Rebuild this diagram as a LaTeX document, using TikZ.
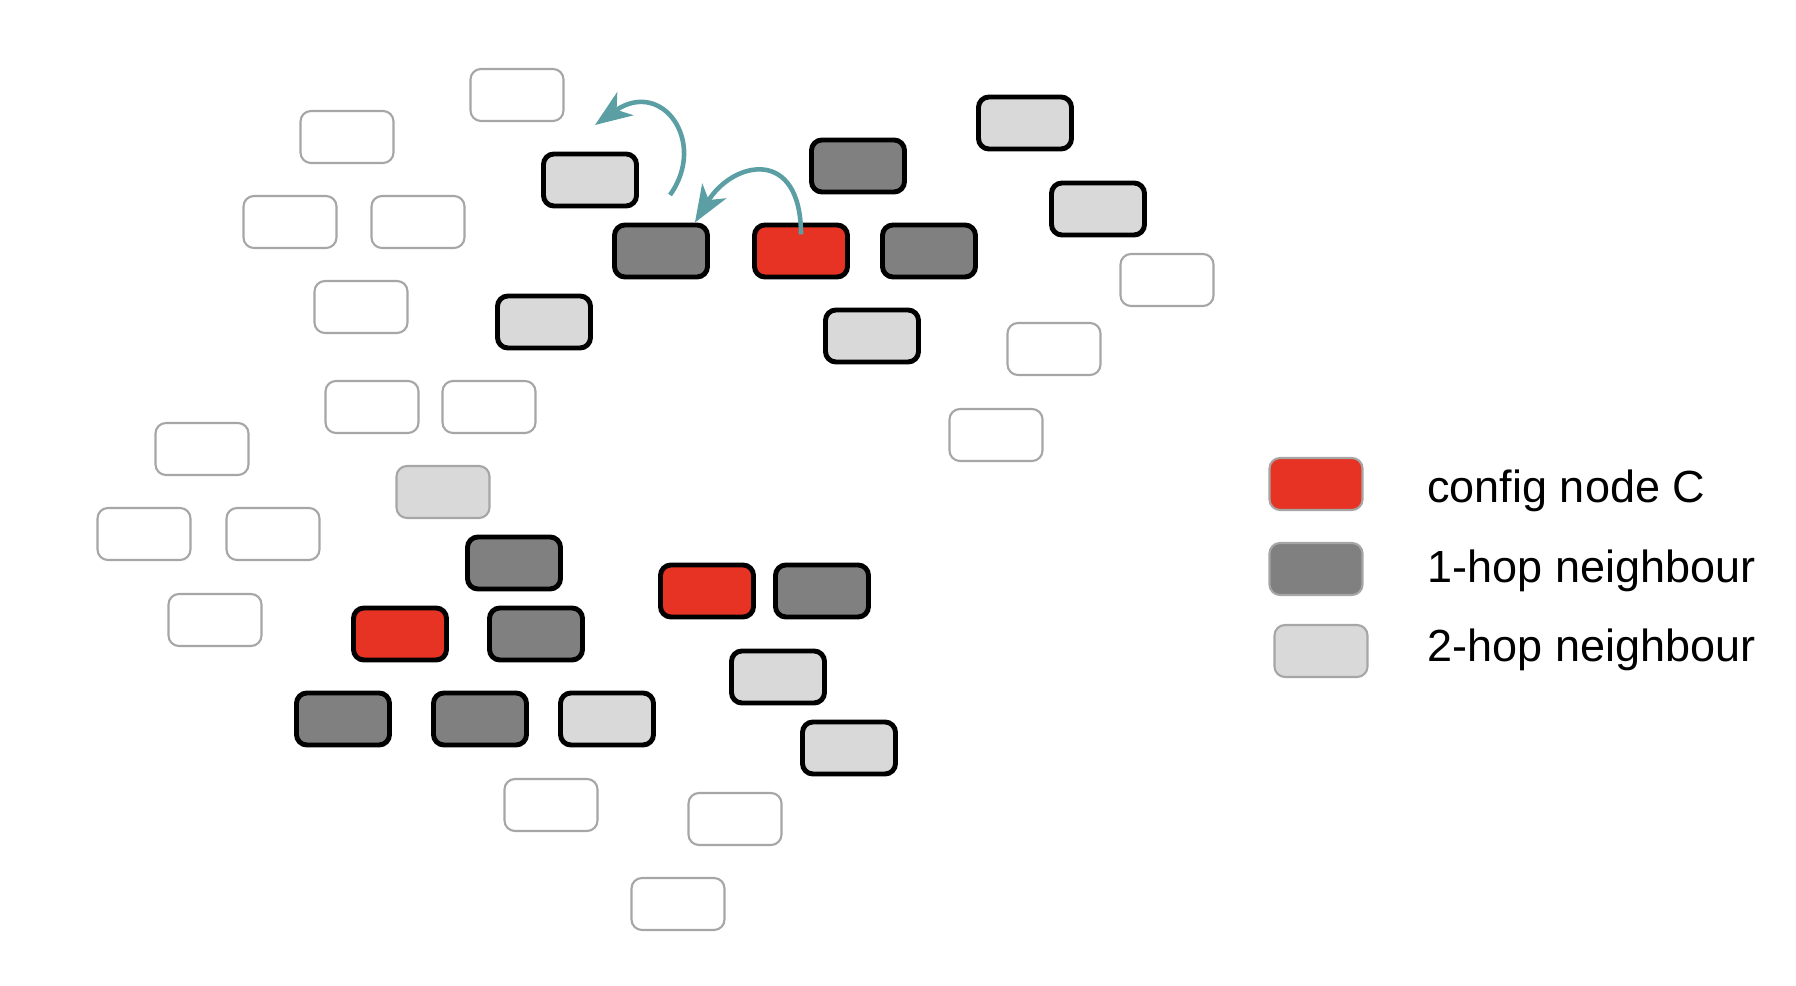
\documentclass[tikz,border=0pt]{standalone}
\usepackage{fontspec}
\setmainfont{Liberation Sans}
\usetikzlibrary{arrows.meta}
\definecolor{ConfRed}{HTML}{E63323}
\definecolor{HopDark}{HTML}{808080}
\definecolor{HopLight}{HTML}{D9D9D9}
\definecolor{FaintLine}{HTML}{A6A6A6}
\definecolor{HopTeal}{HTML}{5B9FA4}

\begin{document}
\begin{tikzpicture}[x=0.01cm,y=-0.01cm,
    cell/.style={rounded corners=3pt,minimum width=0.93cm,minimum height=0.52cm,inner sep=0pt},
    idle/.style={cell,draw=FaintLine,line width=0.6pt,fill=white},
    faint/.style={cell,draw=FaintLine,line width=0.6pt,fill=HopLight},
    hoptwo/.style={cell,draw=black,line width=1.4pt,fill=HopLight},
    hopone/.style={cell,draw=black,line width=1.4pt,fill=HopDark},
    confnode/.style={cell,draw=black,line width=1.4pt,fill=ConfRed},
    keybox/.style={cell,draw=FaintLine,line width=0.6pt},
    keytext/.style={anchor=base west,font=\fontsize{12.8}{15}\selectfont},
    hoparrow/.style={HopTeal,line width=1.3pt,-{Stealth[length=10.5pt,width=8pt,inset=3pt]}}]
  \useasboundingbox (0,0) rectangle (1796,986);

  % nodes not reached
  \foreach \x/\y [count=\i] in {517/95,347/137,290/222,418/222,361/307,372/407,
      489/407,202/449,144/534,273/534,215/620,551/805,735/819,678/904,
      1167/280,1054/349,996/435} {
    \node[idle] (e\i) at (\x,\y) {};
  }
  \node[faint] (f1) at (443,492) {};

  % 2-hop neighbours
  \foreach \x/\y [count=\i] in {590/180,544/322,1025/123,1098/209,872/336,
      607/719,778/677,849/748} {
    \node[hoptwo] (t\i) at (\x,\y) {};
  }

  % 1-hop neighbours
  \foreach \x/\y [count=\i] in {661/251,858/166,929/251,514/563,536/634,
      343/719,480/719,822/591} {
    \node[hopone] (n\i) at (\x,\y) {};
  }

  % config nodes
  \foreach \x/\y [count=\i] in {801/251,400/634,707/591} {
    \node[confnode] (c\i) at (\x,\y) {};
  }

  % hops
  \coordinate (hopstart) at (670,195);
  \coordinate (hopend) at (595,125);
  \draw[hoparrow] ([yshift=-3.4pt]c1.north) .. controls +(0,-88) and +(38,-62) .. (n1.40);
  \draw[hoparrow] (hopstart) .. controls (708,142) and (662,78) .. (hopend);

  % legend
  \node[keybox,fill=ConfRed] (k1) at (1316,484) {};
  \node[keybox,fill=HopDark] (k2) at (1316,569) {};
  \node[keybox,fill=HopLight] (k3) at (1321,651) {};
  \node[keytext] (l1) at (1415,503) {config node C};
  \node[keytext] (l2) at (1415,583) {1-hop neighbour};
  \node[keytext] (l3) at (1415,662) {2-hop neighbour};
\end{tikzpicture}
\end{document}
